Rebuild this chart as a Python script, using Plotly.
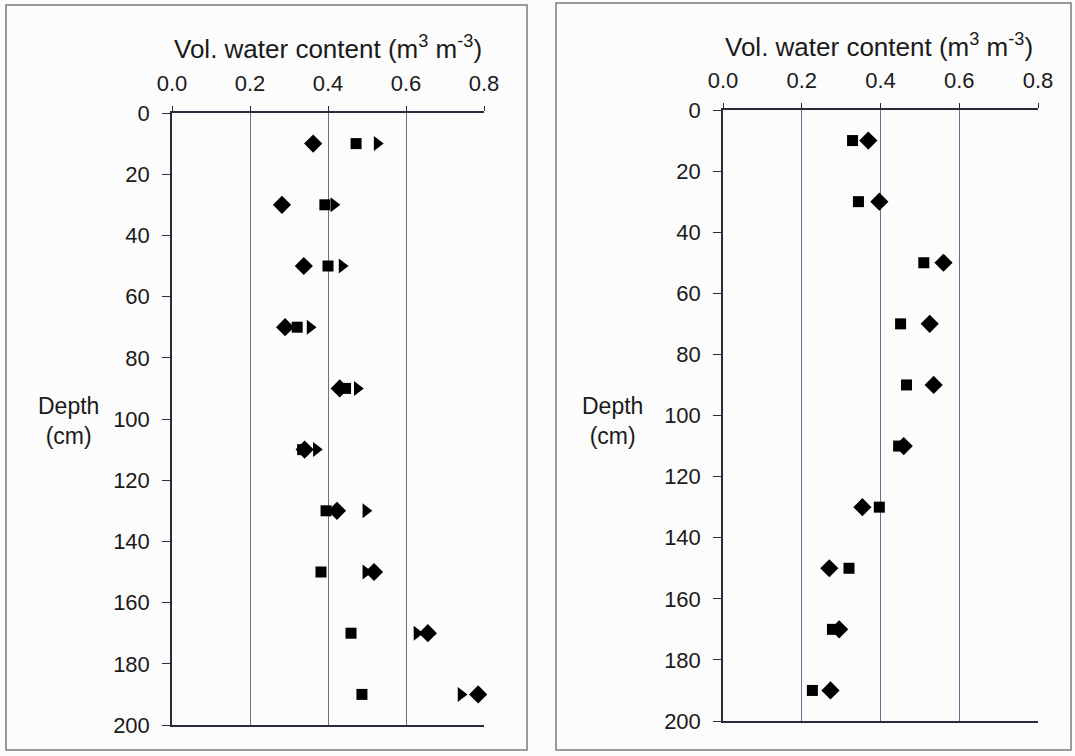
import plotly.graph_objects as go

W, H = 1075, 756

# Sampling depths (cm)
depth = [10, 30, 50, 70, 90, 110, 130, 150, 170, 190]

# Left profile: volumetric water content (m3 m-3)
left_diamond = [0.362, 0.282, 0.338, 0.290, 0.430, 0.340, 0.423, 0.518, 0.656, 0.785]
left_square = [0.472, 0.392, 0.400, 0.321, 0.445, 0.335, 0.395, 0.382, 0.459, 0.487]
left_triangle = [0.526, 0.415, 0.436, 0.354, 0.475, 0.370, 0.497, 0.497, 0.628, 0.741]

# Right profile: volumetric water content (m3 m-3)
right_diamond = [0.369, 0.397, 0.560, 0.525, 0.535, 0.459, 0.354, 0.270, 0.295, 0.273]
right_square = [0.329, 0.344, 0.510, 0.451, 0.466, 0.446, 0.397, 0.320, 0.278, 0.227]

x_ticks = [0.0, 0.2, 0.4, 0.6, 0.8]
y_ticks = [0, 20, 40, 60, 80, 100, 120, 140, 160, 180, 200]


def px_x(p):
    return p / W


def px_y(p):
    return 1 - p / H


FONT = "Liberation Sans, Arial, sans-serif"
GRID = "#6c6c90"
AXIS = "#2a2a3a"

fig = go.Figure()


def add_series(x, name, symbol, size, xa, ya):
    fig.add_trace(go.Scatter(
        x=x, y=depth, mode="markers", name=name,
        marker=dict(symbol=symbol, size=size, color="black", line=dict(width=0)),
        xaxis=xa, yaxis=ya, showlegend=False,
        cliponaxis=False,
    ))


add_series(left_diamond, "Diamond", "diamond", 14, "x", "y")
add_series(left_square, "Square", "square", 11, "x", "y")
add_series(left_triangle, "Triangle", "triangle-right", 13, "x", "y")
add_series(right_square, "Square", "square", 11, "x2", "y2")
add_series(right_diamond, "Diamond", "diamond", 14, "x2", "y2")

tickfont = dict(family=FONT, size=22, color="#1a1a1a")

xcommon = dict(
    range=[0, 0.8], tickvals=x_ticks, ticktext=[f"{v:.1f}" for v in x_ticks],
    side="top", showgrid=True, gridcolor=GRID, gridwidth=1,
    showline=True, linecolor=AXIS, linewidth=1.5, mirror=True,
    ticks="outside", ticklen=5, tickcolor=AXIS, tickfont=tickfont,
    ticklabelstandoff=6,
    zeroline=False, fixedrange=True, automargin=False,
)
ycommon = dict(
    range=[200, 0], tickvals=y_ticks, showgrid=False,
    showline=True, linecolor=AXIS, linewidth=1.5,
    ticks="outside", ticklen=8, tickcolor=AXIS, tickfont=tickfont,
    ticklabelstandoff=8,
    zeroline=False, fixedrange=True, automargin=False,
)

fig.update_layout(
    width=W, height=H,
    margin=dict(l=0, r=0, t=0, b=0, autoexpand=False),
    paper_bgcolor="#fcfcfc", plot_bgcolor="#fcfcfc",
    xaxis=dict(domain=[px_x(172), px_x(484)], anchor="y", **xcommon),
    yaxis=dict(domain=[px_y(725), px_y(113)], anchor="x", **ycommon),
    xaxis2=dict(domain=[px_x(723), px_x(1038)], anchor="y2", **xcommon),
    yaxis2=dict(domain=[px_y(721), px_y(110)], anchor="x2", **ycommon),
)

# Panel frames
for x0, x1, y0, y1 in [(6, 527, 5, 750), (556, 1071, 3, 750)]:
    fig.add_shape(type="rect", xref="paper", yref="paper",
                  x0=px_x(x0), x1=px_x(x1), y0=px_y(y1), y1=px_y(y0),
                  line=dict(color="#7a7a7a", width=1.5), fillcolor="rgba(0,0,0,0)",
                  layer="below")

title = "Vol. water content (m<sup>3</sup> m<sup>-3</sup>)"
for cx, cy in [(328, 47), (879, 45)]:
    fig.add_annotation(text=title, xref="paper", yref="paper",
                       x=px_x(cx), y=px_y(cy), xanchor="center", yanchor="middle",
                       showarrow=False,
                       font=dict(family=FONT, size=26, color="#1a1a1a"))

for cx, cy in [(68, 421), (612, 421)]:
    fig.add_annotation(text="Depth<br>(cm)", xref="paper", yref="paper",
                       x=px_x(cx), y=px_y(cy), xanchor="center", yanchor="middle",
                       showarrow=False, align="center",
                       font=dict(family=FONT, size=23, color="#1a1a1a"))

fig.write_html("out.html")
